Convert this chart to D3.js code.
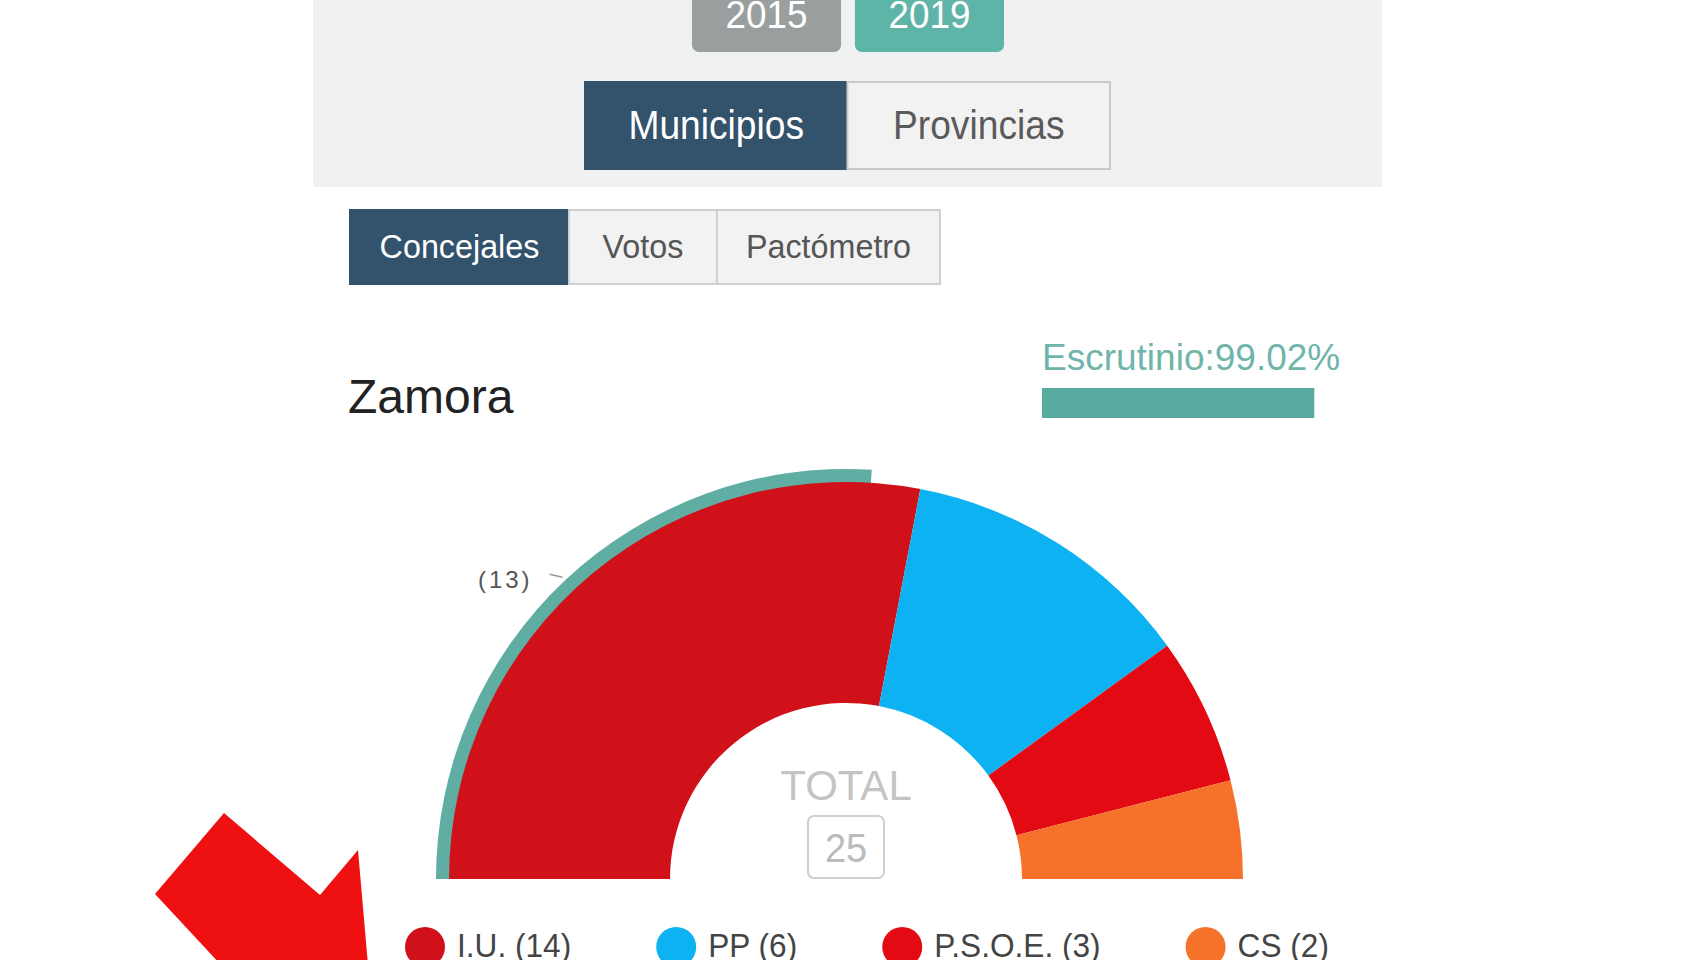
<!DOCTYPE html>
<html>
<head>
<meta charset="utf-8">
<script src="https://cdn.jsdelivr.net/npm/d3@7"></script>
<style>
  body { margin: 0; background: #fff; }
  svg { display: block; font-family: "Liberation Sans", Arial, sans-serif; }
</style>
</head>
<body>
<div id="chart"></div>
<script>
// datos
var anios = ["2015", "2019"];
var ambitos = ["Municipios", "Provincias"];
var pestanas = ["Concejales", "Votos", "Pactómetro"];
var municipio = "Zamora";
var escrutinio = 99.02;
var partidos = ["I.U.", "PP", "P.S.O.E.", "CS"];
var concejales = [14, 6, 3, 2];
var totalConcejales = 25;
var mayoria = 13;

var colores = ["#d0111a", "#0db2f3", "#e30a14", "#f6722a"];
var oscuro = "#33526c";

var svg = d3.select("#chart").append("svg")
  .attr("width", 1706)
  .attr("height", 960);

// texto con un poco de compresion horizontal, como en la captura
function texto(g, x, y, s, size, fill, anchor, sx) {
  return g.append("text")
    .attr("transform", "translate(" + x + "," + y + ") scale(" + (sx || 1) + ",1)")
    .attr("text-anchor", anchor || "start")
    .attr("font-size", size)
    .attr("fill", fill)
    .text(s);
}

//panel gris de arriba
svg.append("rect").attr("x", 313).attr("y", 0).attr("width", 1069).attr("height", 187).attr("fill", "#eff1f3");

// botones de año
var anioX = d3.scaleBand().domain(anios).range([692, 1004]).paddingInner(0.085);
var anioColor = {"2015": "#9b9e9f", "2019": "#5fb4a8"};
var gAnio = svg.append("g");
anios.forEach(function(a){
  gAnio.append("rect")
    .attr("x", anioX(a)).attr("y", -12)
    .attr("width", anioX.bandwidth()).attr("height", 64)
    .attr("rx", 7).attr("fill", anioColor[a]);
  texto(gAnio, anioX(a) + anioX.bandwidth() / 2, 28, a, 38, "#fff", "middle", 0.97);
});

// Municipios / Provincias
var ambitoX = d3.scaleBand().domain(ambitos).range([585, 1110]);
ambitos.forEach(function(a, i){
  svg.append("rect")
    .attr("x", ambitoX(a)).attr("y", 82)
    .attr("width", ambitoX.bandwidth()).attr("height", 87)
    .attr("fill", i === 0 ? oscuro : "#f2f2f2")
    .attr("stroke", i === 0 ? oscuro : "#c9c9c9").attr("stroke-width", 2);
  texto(svg, ambitoX(a) + ambitoX.bandwidth() / 2, 139, a, 40, i === 0 ? "#fff" : "#5a5a5a", "middle", 0.93);
});

// pestañas
var pestanaBordes = [350, 569, 717, 940];
pestanas.forEach(function(p, i){
  var x0 = pestanaBordes[i], x1 = pestanaBordes[i + 1];
  svg.append("rect")
    .attr("x", x0).attr("y", 210)
    .attr("width", x1 - x0).attr("height", 74)
    .attr("fill", i === 0 ? oscuro : "#f2f2f2")
    .attr("stroke", i === 0 ? oscuro : "#d0d0d0").attr("stroke-width", 2);
  texto(svg, (x0 + x1) / 2, 258, p, 34, i === 0 ? "#fff" : "#555", "middle", 0.95);
});

// titulo
texto(svg, 348, 413, municipio, 48, "#222", "start", 1);

// escrutinio
texto(svg, 1042, 370, "Escrutinio:" + escrutinio.toFixed(2) + "%", 37, "#6fb5ab", "start", 1);
var barra = d3.scaleLinear().domain([0, 100]).range([0, 275]);
svg.append("rect").attr("x", 1042).attr("y", 388)
  .attr("width", barra(escrutinio)).attr("height", 30)
  .attr("fill", "#5aab9f");

// hemiciclo
var cx = 846, cy = 879;
var g = svg.append("g").attr("transform", "translate(" + cx + "," + cy + ")");

var pie = d3.pie().sort(null)
  .startAngle(-Math.PI / 2).endAngle(Math.PI / 2)
  .value(function(d){ return d; });

var arco = d3.arc().innerRadius(176).outerRadius(397);

// arco de mayoria (detras de los escaños)
var angMay = d3.scaleLinear().domain([0, totalConcejales]).range([-Math.PI / 2, Math.PI / 2]);
var arcoMay = d3.arc().innerRadius(394).outerRadius(410)
  .startAngle(angMay(0)).endAngle(angMay(mayoria));
g.append("path").attr("d", arcoMay()).attr("fill", "#5fada3");

g.selectAll("path.escano")
  .data(pie(concejales))
  .enter().append("path")
  .attr("class", "escano")
  .attr("d", arco)
  .attr("fill", function(d, i){ return colores[i]; });

var medio = (angMay(0) + angMay(mayoria)) / 2;
var p1 = [414 * Math.sin(medio), -414 * Math.cos(medio)];
g.append("line")
  .attr("x1", p1[0]).attr("y1", p1[1])
  .attr("x2", p1[0] - 13).attr("y2", p1[1] - 3)
  .attr("stroke", "#999").attr("stroke-width", 1.5);
texto(g, p1[0] - 30, p1[1] + 11, "(" + mayoria + ")", 24, "#555", "end", 1)
  .attr("letter-spacing", 3);

// total
texto(g, 0, -79, "TOTAL", 42, "#c4c4c4", "middle", 1);
g.append("rect").attr("x", -38).attr("y", -63).attr("width", 76).attr("height", 62)
  .attr("rx", 6).attr("fill", "#fff").attr("stroke", "#cfcfcf").attr("stroke-width", 2);
texto(g, 0, -17, totalConcejales, 40, "#bbb", "middle", 0.95);

// leyenda
var leyenda = svg.append("g");
var lx = 405;
partidos.forEach(function(p, i){
  leyenda.append("circle").attr("cx", lx + 20).attr("cy", 947).attr("r", 20).attr("fill", colores[i]);
  var t = texto(leyenda, lx + 52, 957, p + " (" + concejales[i] + ")", 34, "#444", "start", 0.93);
  var w = t.node().getComputedTextLength() * 0.93;
  lx = lx + 52 + w + 85;
});

// flecha roja
svg.append("polygon")
  .attr("points", [[224, 813], [320, 895], [358, 850], [368, 965], [221, 965], [155, 894]].map(function(p){ return p.join(","); }).join(" "))
  .attr("fill", "#ef1111");
</script>
</body>
</html>
